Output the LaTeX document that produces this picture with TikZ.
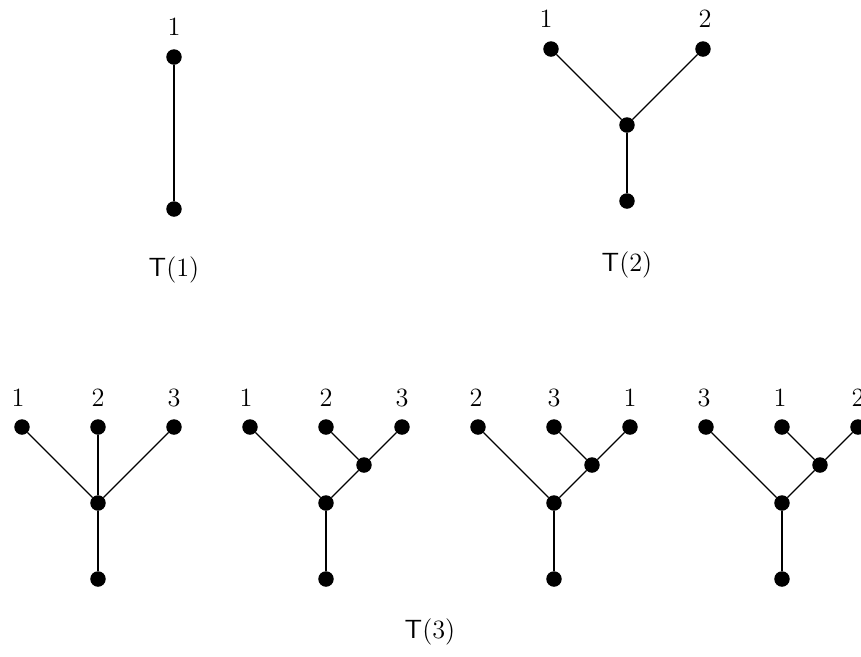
\documentclass[tikz,border=0pt]{standalone}
\usepackage{tikz}
\usetikzlibrary{positioning}
\usepackage{amsmath, amssymb}

\begin{document}
\begin{tikzpicture}[-, x=0.016cm, y=-0.016cm, line width=0.5pt,
            dot/.style ={circle, fill=black, draw=black, inner sep=0pt, minimum size=0.23cm},
            lbl/.style ={inner sep=0pt, font=\large}]

        \useasboundingbox (0,0) rectangle (861,656);

        %\node [estilo] (nombre) at (posicion) {};

        %% T(1)
        \node[dot] (a0) at (174, 57) {};
        \node[dot] (a1) at (174, 209) {};
        \node[lbl] (la0) at (174, 27) {$1$};
        \node[lbl] (ta) at (174, 270) {$\mathsf{T}(1)$};

        %% T(2)
        \node[dot] (b1) at (551, 49) {};
        \node[dot] (b2) at (703, 49) {};
        \node[dot] (bm) at (627, 125) {};
        \node[dot] (bb) at (627, 201) {};
        \node[lbl] (lb1) at (546, 19) {$1$};
        \node[lbl] (lb2) at (705, 19) {$2$};
        \node[lbl] (tb) at (627, 265) {$\mathsf{T}(2)$};

        %% T(3), first tree
        \node[dot] (c1) at (22, 427) {};
        \node[dot] (c2) at (98, 427) {};
        \node[dot] (c3) at (174, 427) {};
        \node[dot] (cm) at (98, 503) {};
        \node[dot] (cb) at (98, 579) {};
        \node[lbl] (lc1) at (18, 398) {$1$};
        \node[lbl] (lc2) at (98, 398) {$2$};
        \node[lbl] (lc3) at (174, 398) {$3$};

        %% T(3), second tree
        \node[dot] (d1) at (250, 427) {};
        \node[dot] (d2) at (326, 427) {};
        \node[dot] (d3) at (402, 427) {};
        \node[dot] (di) at (364, 465) {};
        \node[dot] (dm) at (326, 503) {};
        \node[dot] (db) at (326, 579) {};
        \node[lbl] (ld1) at (246, 398) {$1$};
        \node[lbl] (ld2) at (326, 398) {$2$};
        \node[lbl] (ld3) at (402, 398) {$3$};

        %% T(3), third tree
        \node[dot] (e1) at (478, 427) {};
        \node[dot] (e2) at (554, 427) {};
        \node[dot] (e3) at (630, 427) {};
        \node[dot] (ei) at (592, 465) {};
        \node[dot] (em) at (554, 503) {};
        \node[dot] (eb) at (554, 579) {};
        \node[lbl] (le1) at (476, 398) {$2$};
        \node[lbl] (le2) at (554, 398) {$3$};
        \node[lbl] (le3) at (630, 398) {$1$};

        %% T(3), fourth tree
        \node[dot] (f1) at (706, 427) {};
        \node[dot] (f2) at (782, 427) {};
        \node[dot] (f3) at (858, 427) {};
        \node[dot] (fi) at (820, 465) {};
        \node[dot] (fm) at (782, 503) {};
        \node[dot] (fb) at (782, 579) {};
        \node[lbl] (lf1) at (704, 398) {$3$};
        \node[lbl] (lf2) at (780, 398) {$1$};
        \node[lbl] (lf3) at (858, 398) {$2$};

        \node[lbl] (tc) at (430, 632) {$\mathsf{T}(3)$};

        %%--------------------------aristas----------------------

        \path (a0) edge (a1);

        \path (b1) edge (bm);
        \path (b2) edge (bm);
        \path (bm) edge (bb);

        \path (c1) edge (cm);
        \path (c2) edge (cm);
        \path (c3) edge (cm);
        \path (cm) edge (cb);

        \path (d2) edge (di);
        \path (d3) edge (di);
        \path (d1) edge (dm);
        \path (di) edge (dm);
        \path (dm) edge (db);

        \path (e2) edge (ei);
        \path (e3) edge (ei);
        \path (e1) edge (em);
        \path (ei) edge (em);
        \path (em) edge (eb);

        \path (f2) edge (fi);
        \path (f3) edge (fi);
        \path (f1) edge (fm);
        \path (fi) edge (fm);
        \path (fm) edge (fb);

    \end{tikzpicture}
\end{document}
